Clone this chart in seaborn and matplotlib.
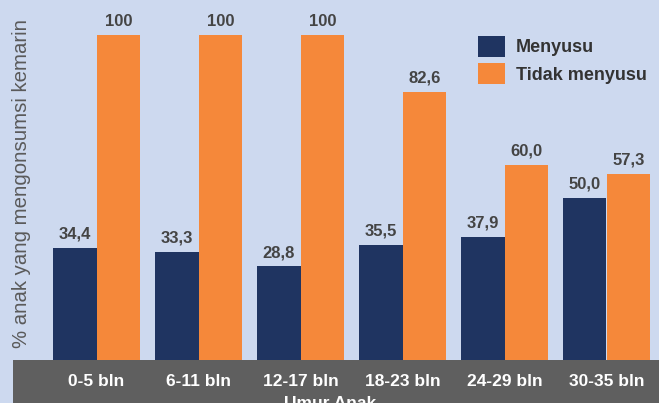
import matplotlib
matplotlib.use("Agg")
import matplotlib.pyplot as plt
import matplotlib.patches as mpatches
import seaborn as sns
import pandas as pd

categories = ["0-5 bln", "6-11 bln", "12-17 bln", "18-23 bln", "24-29 bln", "30-35 bln"]
menyusu = [34.4, 33.3, 28.8, 35.5, 37.9, 50.0]
tidak_menyusu = [100, 100, 100, 82.6, 60.0, 57.3]
series_names = ["Menyusu", "Tidak menyusu"]

BG = "#cdd9ef"
NAVY = "#1f3461"
ORANGE = "#f5883a"
BAND = "#5f5f5f"
TXT = "#444444"

df = pd.DataFrame({
    "umur": categories * 2,
    "persen": menyusu + tidak_menyusu,
    "status": [series_names[0]] * len(categories) + [series_names[1]] * len(categories),
})

sns.set_theme(style="white")
plt.rcParams["font.family"] = ["Liberation Sans", "DejaVu Sans"]

W, H = 659, 403
fig = plt.figure(figsize=(W / 100, H / 100), dpi=100, facecolor=BG)
ax = fig.add_axes([45.5 / W, (H - 360) / H, (657.5 - 45.5) / W, (360 - 35) / H])
ax.set_facecolor("none")

# gray band behind x tick labels
band = mpatches.Rectangle((13 / W, 0), 1 - 13 / W, (H - 360) / H,
                          transform=fig.transFigure, facecolor=BAND,
                          edgecolor="none", zorder=-1)
fig.patches.append(band)

sns.barplot(data=df, x="umur", y="persen", hue="status", order=categories,
            hue_order=series_names, palette=[NAVY, ORANGE], width=0.853,
            saturation=1, ax=ax, legend=False, linewidth=0)

for cont in ax.containers:
    labels = []
    for b in cont:
        v = b.get_height()
        labels.append("100" if v == 100 else f"{v:.1f}".replace(".", ","))
    ax.bar_label(cont, labels=labels, padding=4.5, fontsize=12,
                 fontweight="bold", color=TXT)

ax.set_ylim(0, 100)
ax.set_xlim(-0.5, len(categories) - 0.5)
ax.set_yticks([])
ax.set_xlabel("")
ax.set_ylabel("")
for s in ax.spines.values():
    s.set_visible(False)
ax.tick_params(axis="x", length=0, pad=10, labelsize=12.5, labelcolor="white")
for t in ax.get_xticklabels():
    t.set_fontweight("bold")

fig.text(330 / W, 1 - 396 / H, "Umur Anak", ha="center", va="top",
         fontsize=12.5, fontweight="bold", color="white")
fig.text(22 / W, 1 - 184 / H, "% anak yang mengonsumsi kemarin", rotation=90,
         ha="center", va="center", fontsize=14.7, color="#5a5a5a")

handles = [mpatches.Patch(facecolor=NAVY, edgecolor="none"),
           mpatches.Patch(facecolor=ORANGE, edgecolor="none")]
leg = fig.legend(handles, series_names, loc="upper left",
                 bbox_to_anchor=(469 / W, 1 - 27 / H), frameon=False,
                 borderpad=0, fontsize=13, handlelength=1.5, handleheight=1.4,
                 handletextpad=0.6, labelspacing=0.35)
for t in leg.get_texts():
    t.set_fontweight("bold")
    t.set_color("#333333")

fig.savefig("out.png", dpi=100, facecolor=BG)
